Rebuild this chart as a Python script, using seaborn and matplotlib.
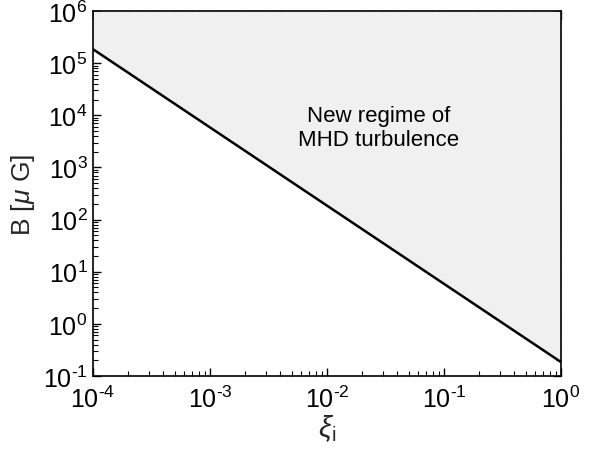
import numpy as np
import pandas as pd
import seaborn as sns
import matplotlib
matplotlib.use("Agg")
import matplotlib.pyplot as plt
from matplotlib.ticker import LogLocator, NullFormatter, FuncFormatter

xi = [1e-4, 1e0]
B = [1.85e5, 0.185]
region_label = "New regime of\nMHD turbulence"

sns.set_theme(style="white")
plt.rcParams['font.family'] = ['Liberation Sans', 'DejaVu Sans']
plt.rcParams['mathtext.fontset'] = 'custom'
plt.rcParams['mathtext.rm'] = 'Liberation Sans'
plt.rcParams['mathtext.it'] = 'Liberation Sans:italic'
plt.rcParams['mathtext.sf'] = 'Liberation Sans'

fig = plt.figure(figsize=(5.94, 4.52), dpi=100)
ax = fig.add_axes([93/594, 1 - 377/452, (561-93)/594, (377-12)/452])

df = pd.DataFrame({"xi": xi, "B": B})
ax.fill_between(df["xi"], df["B"], 1e6, color="#f0f0f0", linewidth=0)
sns.lineplot(data=df, x="xi", y="B", ax=ax, color="black", linewidth=1.8)

ax.set_xscale("log")
ax.set_yscale("log")
ax.set_xlim(1e-4, 1e0)
ax.set_ylim(1e-1, 1e6)

def fmt(v, pos):
    e = int(round(np.log10(v)))
    return r"$\mathrm{10}^{\text{%d}}$" % e

ax.xaxis.set_major_locator(LogLocator(base=10, numticks=10))
ax.yaxis.set_major_locator(LogLocator(base=10, numticks=10))
ax.xaxis.set_major_formatter(FuncFormatter(fmt))
ax.yaxis.set_major_formatter(FuncFormatter(fmt))
ax.xaxis.set_minor_locator(LogLocator(base=10, subs=np.arange(2, 10), numticks=20))
ax.yaxis.set_minor_locator(LogLocator(base=10, subs=np.arange(2, 10), numticks=20))
ax.xaxis.set_minor_formatter(NullFormatter())
ax.yaxis.set_minor_formatter(NullFormatter())
ax.tick_params(which="both", direction="in", bottom=True, left=True, top=True, right=True,
               colors="black", labelsize=18)
ax.tick_params(which="major", length=6, width=1)
ax.tick_params(which="minor", length=3.5, width=0.8)
ax.tick_params(axis="x", pad=7)
ax.tick_params(axis="y", pad=4)
for s in ax.spines.values():
    s.set_color("black")
    s.set_linewidth(1.2)

ax.set_xlabel(r"$\xi_{\rm i}$", fontsize=21, labelpad=0)
ax.set_ylabel(r"B [$\mu$ G]", fontsize=19, labelpad=4)
ax.text(0.61, 0.68, region_label, transform=ax.transAxes, ha="center", va="center", fontsize=16, color="black")

fig.savefig("out.png", dpi=100)
